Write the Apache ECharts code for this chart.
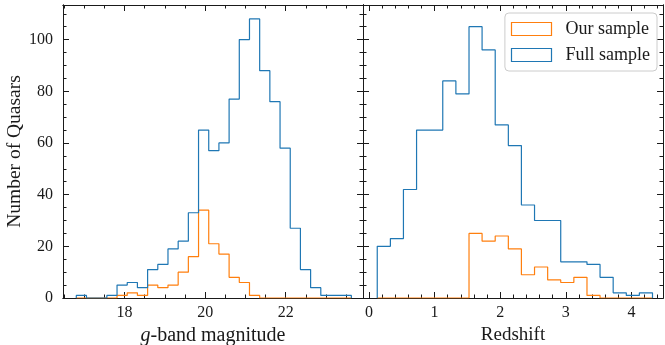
<!DOCTYPE html>
<html><head><meta charset="utf-8">
<script src="https://cdn.jsdelivr.net/npm/echarts@6/dist/echarts.min.js"></script>
<style>html,body{margin:0;padding:0;background:#fff}#c{width:665px;height:345px}</style>
</head><body><div id="c"></div>
<script>
// ---- data ----
const magEdges = [16.800, 17.053, 17.306, 17.559, 17.812, 18.065, 18.318, 18.571, 18.824, 19.077,
  19.330, 19.583, 19.836, 20.089, 20.342, 20.595, 20.848, 21.101, 21.354, 21.607,
  21.860, 22.113, 22.366, 22.619, 22.872, 23.125, 23.378, 23.631];
const magFull = [1, 0, 0, 1, 5, 6, 4, 11, 13, 19, 22, 33, 65, 57, 60, 77, 100, 108, 88, 76, 58, 27, 11, 4, 1, 1, 1];
const magOurs = [0, 0, 0, 0, 1, 2, 1, 5, 4, 5, 10, 16, 34, 21, 17, 8, 6, 1, 0, 0, 0, 0, 0, 0, 0, 0, 0];

const zEdges = [0.127, 0.327, 0.526, 0.726, 0.926, 1.125, 1.325, 1.525, 1.724, 1.924, 2.124,
  2.323, 2.523, 2.723, 2.922, 3.122, 3.322, 3.521, 3.721, 3.921, 4.120, 4.320];
const zFull = [20, 23, 42, 65, 65, 84, 79, 105, 96, 67, 59, 36, 30, 30, 14, 14, 13, 8, 2, 1, 2];
const zOurs = [0, 0, 0, 0, 0, 0, 0, 25, 22, 24, 19, 9, 12, 7, 6, 8, 1, 0, 0, 0, 0];

const seriesNames = ['Our sample', 'Full sample'];
const magTicks = [18, 20, 22];
const zTicks = [0, 1, 2, 3, 4];
const countTicks = [0, 20, 40, 60, 80, 100];

// ---- styling / layout ----
const FONT = 'Liberation Serif';
const INK = '#1a1a1a';
const ORANGE = '#ff7f0e', BLUE = '#1f77b4';
const magRange = [16.47, 23.92], zRange = [-0.09, 4.48], yRange = [0, 113.4];

function outline(edges, counts) {
  const pts = [[edges[0], 0]];
  counts.forEach((c, i) => { pts.push([edges[i], c]); pts.push([edges[i + 1], c]); });
  pts.push([edges[edges.length - 1], 0]);
  return pts;
}
function steps(a, b, s) { const r = []; for (let v = a; v <= b + 1e-9; v += s) r.push(+v.toFixed(4)); return r; }

const magMinor = steps(16.5, 23.5, 0.5).filter(v => !magTicks.includes(v));
const zMinor = steps(0.2, 4.4, 0.2).filter(v => !zTicks.some(t => Math.abs(t - v) < 1e-6));
const countMinor = steps(5, 110, 5).filter(v => v % 20 !== 0);

function axis(grid, pos, range, vals, len, labels, extra) {
  return Object.assign({
    type: 'value', gridIndex: grid, position: pos, min: range[0], max: range[1],
    axisLine: { show: true, onZero: false, lineStyle: { color: INK, width: 1 } },
    axisTick: { show: true, inside: true, length: len, customValues: vals, lineStyle: { color: INK, width: 1 } },
    axisLabel: { show: labels, customValues: vals, color: INK, fontFamily: FONT, fontSize: 16, margin: 7 },
    splitLine: { show: false }, minorTick: { show: false }
  }, extra || {});
}

const xAxes = [], yAxes = [];
// Grid 0 (magnitude) — order matters for position handling
xAxes.push(axis(0, 'bottom', magRange, magTicks, 6, true, {
  name: '{i|g}-band magnitude', nameLocation: 'middle', nameGap: 25,
  nameTextStyle: { color: INK, fontFamily: FONT, fontSize: 20, rich: { i: { fontStyle: 'italic', fontFamily: FONT, fontSize: 20, color: INK } } }
}));
xAxes.push(axis(0, 'top', magRange, magTicks, 6, false));
xAxes.push(axis(0, 'top', magRange, magMinor, 3.5, false));    // flips to bottom
xAxes.push(axis(0, 'bottom', magRange, magMinor, 3.5, false)); // flips to top
// Grid 1 (redshift)
xAxes.push(axis(1, 'bottom', zRange, zTicks, 6, true, {
  name: 'Redshift', nameLocation: 'middle', nameGap: 25,
  nameTextStyle: { color: INK, fontFamily: FONT, fontSize: 19 }
}));
xAxes.push(axis(1, 'top', zRange, zTicks, 6, false));
xAxes.push(axis(1, 'top', zRange, zMinor, 3.5, false));
xAxes.push(axis(1, 'bottom', zRange, zMinor, 3.5, false));

for (let g = 0; g < 2; g++) {
  yAxes.push(axis(g, 'left', yRange, countTicks, 6, g === 0, g === 0 ? {
    name: 'Number of Quasars', nameLocation: 'middle', nameGap: 36,
    nameTextStyle: { color: INK, fontFamily: FONT, fontSize: 19.5 }
  } : {}));
  yAxes[yAxes.length - 1].axisLabel.margin = 10;
  yAxes.push(axis(g, 'right', yRange, countTicks, 6, false));
  yAxes.push(axis(g, 'right', yRange, countMinor, 3.5, false)); // flips to left
  yAxes.push(axis(g, 'left', yRange, countMinor, 3.5, false));  // flips to right
}

function stepSeries(name, color, pts, xi, yi) {
  return {
    type: 'line', name: name, data: pts, xAxisIndex: xi, yAxisIndex: yi,
    showSymbol: false, symbol: 'none', smooth: false, animation: false, clip: true,
    lineStyle: { color: color, width: 1.2 }, itemStyle: { color: color }
  };
}

const chart = echarts.init(document.getElementById('c'), null, { renderer: 'canvas' });
chart.setOption({
  backgroundColor: '#fff',
  animation: false,
  grid: [
    { left: 63, top: 5, width: 300, height: 293, containLabel: false, outerBoundsMode: 'none' },
    { left: 363, top: 5, width: 300, height: 293, containLabel: false, outerBoundsMode: 'none' }
  ],
  xAxis: xAxes,
  yAxis: yAxes,
  legend: {
    orient: 'vertical', right: 8, top: 13,
    padding: [7, 7, 7, 6], itemGap: 8, itemWidth: 40, itemHeight: 13,
    backgroundColor: '#fff', borderColor: '#cccccc', borderWidth: 1, borderRadius: 4,
    textStyle: { fontFamily: FONT, fontSize: 18, color: INK, lineHeight: 18, padding: [0, 0, 0, 9] },
    data: [
      { name: seriesNames[0], icon: 'rect', itemStyle: { color: 'rgba(255,255,255,0)', borderColor: ORANGE, borderWidth: 1.2 } },
      { name: seriesNames[1], icon: 'rect', itemStyle: { color: 'rgba(255,255,255,0)', borderColor: BLUE, borderWidth: 1.2 } }
    ]
  },
  series: [
    stepSeries(seriesNames[0], ORANGE, outline(magEdges, magOurs), 0, 0),
    stepSeries(seriesNames[1], BLUE, outline(magEdges, magFull), 0, 0),
    stepSeries(seriesNames[0], ORANGE, outline(zEdges, zOurs), 4, 4),
    stepSeries(seriesNames[1], BLUE, outline(zEdges, zFull), 4, 4)
  ]
});
</script>
</body></html>
